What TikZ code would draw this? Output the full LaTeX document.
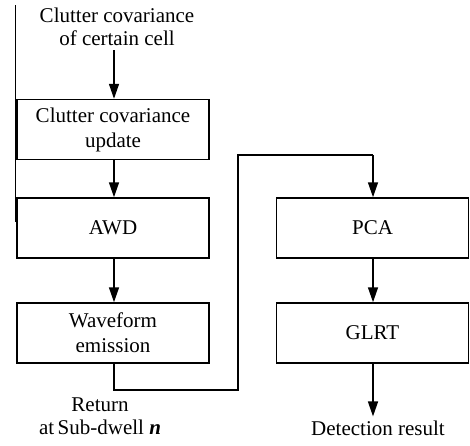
\documentclass[tikz,border=0pt]{standalone}
\usepackage{fontspec}
\setmainfont{Liberation Serif}
\usetikzlibrary{arrows.meta}
\begin{document}
\begin{tikzpicture}[x=1pt,y=-1pt,
  box/.style={draw,line width=1.5pt,minimum width=192pt,minimum height=60pt,inner sep=0pt,align=center,font=\fontsize{21}{25}\selectfont},
  lbl/.style={inner sep=0pt,align=center,font=\fontsize{21}{23}\selectfont},
  conn/.style={line width=1.5pt,-{Triangle[length=15pt,width=10pt]}},
  wire/.style={line width=1.5pt}]
\useasboundingbox (0,0) rectangle (470,445);
\node[lbl] (src) at (117,27) {Clutter covariance\\of certain cell};
\node[box] (upd) at (113,129.5) {Clutter covariance\\update};
\node[box] (awd) at (113,228) {AWD};
\node[box] (wav) at (113,333) {Waveform\\emission};
\node[box] (pca) at (372.5,228) {PCA};
\node[box] (glrt) at (372.5,333) {GLRT};
\node[lbl] (ret) at (100,416) {Return\\at\,Sub-dwell \textit{\textbf{n}}};
\node[lbl] (det) at (378,428) {Detection result};
\coordinate (c1) at (114,390);
\coordinate (c2) at (238,390);
\coordinate (c3) at (238,155);
\coordinate (c4) at (373,155);
\coordinate (l1) at (15.5,5);
\coordinate (l2) at (15.5,222);
\draw[wire] (l1) -- (l2);
\draw[conn] (114,50) -- (upd.north -| 114,0);
\draw[conn] (upd.south -| 114,0) -- (awd.north -| 114,0);
\draw[conn] (awd.south -| 114,0) -- (wav.north -| 114,0);
\draw[wire] (wav.south -| c1) -- (c1) -- (c2) -- (c3) -- (c4);
\draw[conn] (c4) -- (pca.north -| c4);
\draw[conn] (pca.south -| c4) -- (glrt.north -| c4);
\draw[conn] (glrt.south -| c4) -- ([yshift=4pt]det.north -| c4);
\end{tikzpicture}
\end{document}
